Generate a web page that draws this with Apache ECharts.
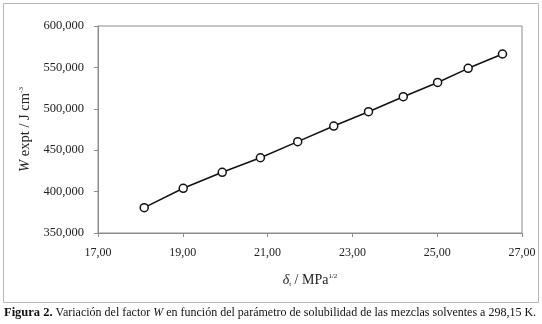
<!DOCTYPE html>
<html>
<head>
<meta charset="utf-8">
<script src="https://cdn.jsdelivr.net/npm/echarts@6/dist/echarts.min.js"></script>
<style>
  html, body { margin: 0; padding: 0; background: #fff; }
  #chart { width: 542px; height: 324px; }
</style>
</head>
<body>
<div id="chart"></div>
<script>
// parámetro de solubilidad (MPa^1/2) y factor W (J cm^-3)
var delta = [18.09, 19.01, 19.93, 20.83, 21.71, 22.56, 23.38, 24.20, 25.01, 25.73, 26.54]
var wExpt = [380600, 404000, 423300, 440900, 460300, 479200, 496500, 514600, 531800, 548900, 566200]
var xTicks = [17, 19, 21, 23, 25, 27]
var yTicks = [350000, 400000, 450000, 500000, 550000, 600000]

var FONT = 'Liberation Serif'
var chart = echarts.init(document.getElementById('chart'))

// formateo con coma decimal, como en la figura original
function fmtX(v) {
  return v.toFixed(2).replace('.', ',')
}
function fmtY(v) {
  return v.toLocaleString('en-US')
}

var option = {
  animation: false,
  backgroundColor: '#fff',
  grid: {
    left: 98,
    right: 20,
    top: 26,
    bottom: 91,
    show: true,
    borderColor: '#8c8c8c',
    borderWidth: 1
  },
  xAxis: {
    type: 'value',
    min: xTicks[0],
    max: xTicks[xTicks.length - 1],
    interval: 2,
    axisLine: { lineStyle: { color: '#8c8c8c', width: 1 } },
    axisTick: { show: true, inside: false, length: 4, lineStyle: { color: '#8c8c8c' } },
    splitLine: { show: false },
    axisLabel: {
      formatter: fmtX,
      fontFamily: FONT,
      fontSize: 12,
      color: '#222',
      margin: 14
    },
    name: '{d|δ}{sub|t}{n| / MPa}{sup|1/2}',
    nameLocation: 'middle',
    nameGap: 40,
    nameTextStyle: {
      rich: {
        d: { fontFamily: FONT, fontStyle: 'italic', fontSize: 14, color: '#222' },
        sub: { fontFamily: FONT, fontSize: 7, color: '#222', verticalAlign: 'bottom', padding: [6, 0, 0, 0] },
        n: { fontFamily: FONT, fontSize: 14, color: '#222' },
        sup: { fontFamily: FONT, fontSize: 7, color: '#222', verticalAlign: 'top', padding: [0, 0, 8, 0] }
      }
    }
  },
  yAxis: {
    type: 'value',
    min: yTicks[0],
    max: yTicks[yTicks.length - 1],
    interval: 50000,
    axisLine: { show: true, lineStyle: { color: '#8c8c8c', width: 1 } },
    axisTick: { show: true, inside: false, length: 4, lineStyle: { color: '#8c8c8c' } },
    splitLine: { show: false },
    axisLabel: {
      formatter: fmtY,
      fontFamily: FONT,
      fontSize: 12.5,
      color: '#222',
      margin: 14
    },
    name: '{w|W}{n| expt / J cm}{sup|-3}',
    nameLocation: 'middle',
    nameRotate: 90,
    nameGap: 63,
    nameTextStyle: {
      rich: {
        w: { fontFamily: FONT, fontStyle: 'italic', fontSize: 14.5, color: '#222' },
        n: { fontFamily: FONT, fontSize: 14.5, color: '#222' },
        sup: { fontFamily: FONT, fontSize: 7, color: '#222', verticalAlign: 'top', padding: [0, 0, 8, 0] }
      }
    }
  },
  series: [
    {
      type: 'line',
      data: delta.map(function (d, i) { return [d, wExpt[i]] }),
      symbol: 'circle',
      symbolSize: 8,
      showSymbol: true,
      lineStyle: { color: '#111', width: 1.5 },
      itemStyle: { color: '#fff', borderColor: '#111', borderWidth: 1.5 }
    }
  ],
  graphic: [
    {
      type: 'rect',
      shape: { x: 3.5, y: 3.5, width: 535, height: 299 },
      style: { fill: 'none', stroke: '#b8b8b8', lineWidth: 1 },
      z: -1
    },
    {
      type: 'text',
      left: 4,
      top: 306,
      style: {
        text: '{b|Figura 2.}{t| Variación del factor }{i|W}{t| en función del parámetro de solubilidad de las mezclas solventes a 298,15 K.}',
        rich: {
          b: { fontFamily: FONT, fontWeight: 'bold', fontSize: 12.5, fill: '#111' },
          t: { fontFamily: FONT, fontSize: 12, fill: '#111' },
          i: { fontFamily: FONT, fontStyle: 'italic', fontSize: 12, fill: '#111' }
        }
      }
    }
  ]
}

chart.setOption(option)
</script>
</body>
</html>
